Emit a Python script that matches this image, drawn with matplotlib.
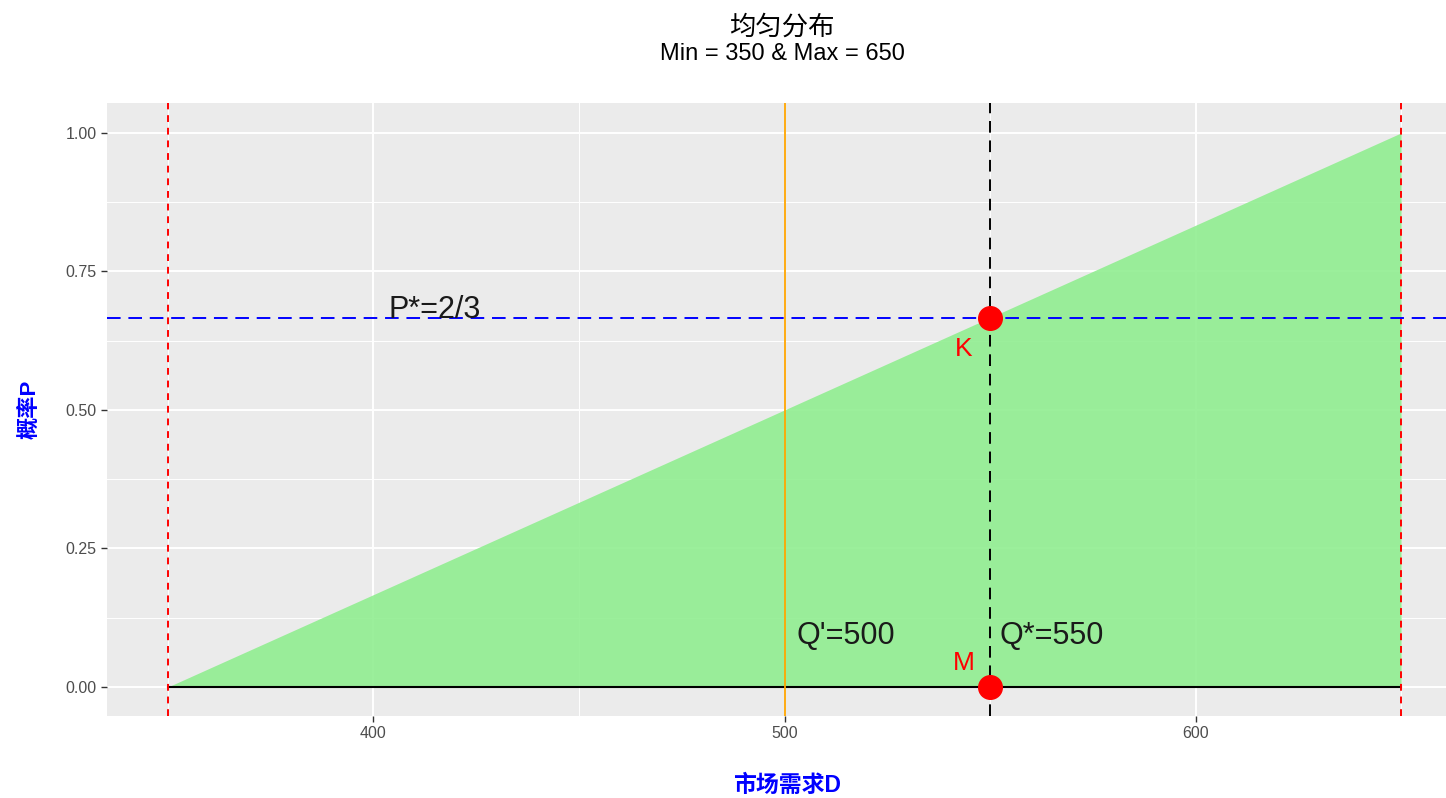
import matplotlib.pyplot as plt
import numpy as np

# 均匀分布 Min=350, Max=650
d_min, d_max = 350, 650
demand = [350, 650]
prob = [0, 1]
q_prime = 500
q_star = 550
p_star = 2 / 3
pt_x = [550, 550]
pt_y = [2 / 3, 0]
pt_labels = ['K', 'M']
lab_x = [543.5, 543.5]
lab_y = [0.61, 0.043]
xticks = [400, 500, 600]
yticks = [0.0, 0.25, 0.5, 0.75, 1.0]
ytick_labels = ['0.00', '0.25', '0.50', '0.75', '1.00']

plt.rcParams['font.family'] = ['Liberation Sans', 'Noto Sans CJK SC', 'DejaVu Sans']

fig = plt.figure(figsize=(14.46, 7.98), dpi=100)
ax = fig.add_axes([0.074, 0.103, 0.926, 0.768])
ax.set_facecolor('#EBEBEB')
for s in ax.spines.values():
    s.set_visible(False)

# grid
for v in [350, 450, 550, 650]:
    ax.axvline(v, color='white', lw=0.7, zorder=0.5)
for v in xticks:
    ax.axvline(v, color='white', lw=1.4, zorder=0.5)
for v in [0.125, 0.375, 0.625, 0.875]:
    ax.axhline(v, color='white', lw=0.7, zorder=0.5)
for v in yticks:
    ax.axhline(v, color='white', lw=1.4, zorder=0.5)

ax.fill_between(demand, 0, prob, color='lightgreen', alpha=0.9, lw=0, zorder=1)
ax.plot(demand, [0, 0], color='black', lw=1.5, zorder=2)

ax.axvline(q_prime, color='orange', lw=1.3, zorder=2)
ax.axvline(q_star, color='black', lw=1.4, ls=(0, (6, 4)), zorder=2)
ax.axvline(d_min, color='red', lw=1.4, ls=(0, (3.5, 3)), zorder=2)
ax.axvline(d_max, color='red', lw=1.4, ls=(0, (3.5, 3)), zorder=2)
ax.axhline(p_star, color='blue', lw=1.4, ls=(0, (7, 4)), zorder=2)

ax.plot(pt_x, pt_y, 'o', color='red', ms=17, zorder=3)
for lx, ly, t in zip(lab_x, lab_y, pt_labels):
    ax.text(lx, ly, t, color='red', fontsize=19, ha='center', va='center', zorder=4)

ax.text(415, 0.68, 'P*=2/3', fontsize=22, ha='center', va='center', color='#1a1a1a', zorder=4)
ax.text(515, 0.092, "Q'=500", fontsize=22, ha='center', va='center', color='#1a1a1a', zorder=4)
ax.text(565, 0.092, 'Q*=550', fontsize=22, ha='center', va='center', color='#1a1a1a', zorder=4)

ax.set_xlim(335.2, 660.9)
ax.set_ylim(-0.052, 1.054)
ax.set_xticks(xticks)
ax.set_yticks(yticks)
ax.set_yticklabels(ytick_labels)
ax.tick_params(colors='#333333', labelcolor='#4D4D4D', labelsize=11.5, length=4, width=1)

ax.set_xlabel('市场需求D', color='blue', fontsize=16.5, fontweight='bold', va='center')
ax.xaxis.set_label_coords(0.508, -0.114)
ax.set_ylabel('概率P', color='blue', fontsize=16, fontweight='bold', labelpad=18)

fig.text(0.541, 0.966, '均匀分布', ha='center', va='center', fontsize=19)
fig.text(0.541, 0.932, 'Min = 350 & Max = 650', ha='center', va='center', fontsize=17)

fig.savefig('out.png', dpi=100)
